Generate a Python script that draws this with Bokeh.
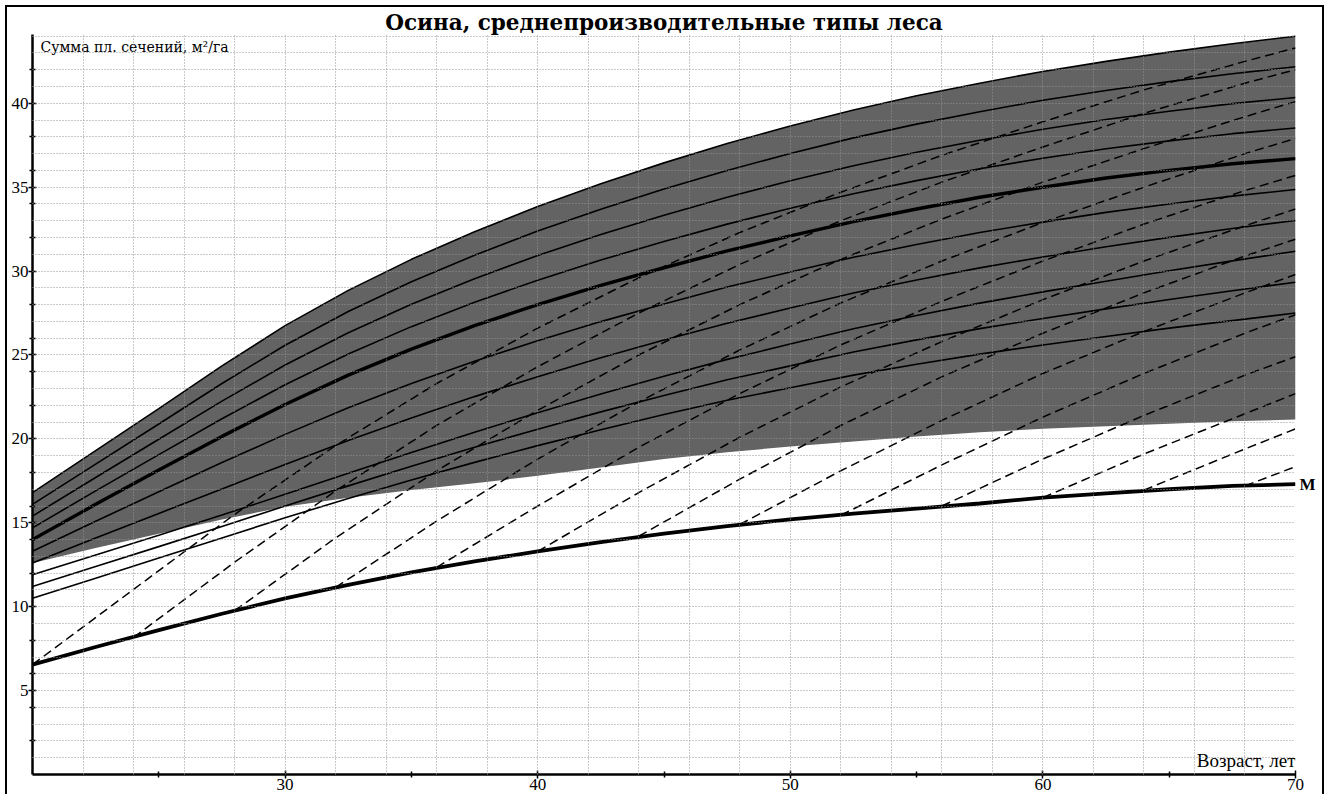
from bokeh.plotting import figure
from bokeh.models import Range1d, FixedTicker, Label, LinearAxis
from bokeh.embed import file_html
from bokeh.resources import INLINE

# ---------------- data ----------------
ages = [20, 22.5, 25, 27.5, 30, 32.5, 35, 37.5, 40, 42.5, 45, 47.5, 50, 52.5, 55, 57.5, 60, 62.5, 65, 67.5, 70]

# solid curves (bottom to top); line_5 is the thick one, line_9 is the upper edge of the band
line_0 = [10.5, 11.7, 12.9, 14.1, 15.3, 16.45, 17.55, 18.6, 19.6, 20.55, 21.45, 22.3, 23.05, 23.8, 24.45, 25.05, 25.6, 26.1, 26.6, 27.05, 27.5]
line_1 = [11.2, 12.39, 13.58, 14.78, 16.0, 17.2, 18.37, 19.5, 20.58, 21.61, 22.59, 23.52, 24.35, 25.18, 25.9, 26.57, 27.18, 27.75, 28.31, 28.83, 29.34]
line_2 = [11.9, 13.08, 14.26, 15.46, 16.7, 17.95, 19.19, 20.4, 21.56, 22.67, 23.73, 24.74, 25.65, 26.56, 27.35, 28.09, 28.76, 29.4, 30.02, 30.61, 31.18]
line_3 = [12.6, 14.09, 15.56, 17.02, 18.48, 19.9, 21.24, 22.52, 23.71, 24.83, 25.89, 26.89, 27.8, 28.69, 29.47, 30.19, 30.84, 31.45, 32.01, 32.54, 33.02]
line_4 = [13.3, 15.09, 16.85, 18.59, 20.27, 21.85, 23.3, 24.63, 25.85, 26.99, 28.04, 29.05, 29.95, 30.82, 31.58, 32.3, 32.92, 33.5, 34.0, 34.47, 34.86]
line_5 = [14.0, 16.1, 18.15, 20.15, 22.05, 23.8, 25.35, 26.75, 28.0, 29.15, 30.2, 31.2, 32.1, 32.95, 33.7, 34.4, 35.0, 35.55, 36.0, 36.4, 36.7]
line_6 = [14.7, 16.9, 19.06, 21.2, 23.23, 25.06, 26.69, 28.15, 29.46, 30.66, 31.76, 32.8, 33.74, 34.61, 35.39, 36.1, 36.73, 37.29, 37.76, 38.19, 38.53]
line_7 = [15.4, 17.7, 19.98, 22.25, 24.4, 26.33, 28.03, 29.55, 30.93, 32.18, 33.33, 34.4, 35.38, 36.28, 37.08, 37.8, 38.45, 39.03, 39.53, 39.98, 40.35]
line_8 = [16.1, 18.5, 20.89, 23.3, 25.58, 27.59, 29.36, 30.95, 32.39, 33.69, 34.89, 36.0, 37.01, 37.94, 38.76, 39.5, 40.18, 40.76, 41.29, 41.76, 42.18]
line_9 = [16.8, 19.3, 21.8, 24.35, 26.75, 28.85, 30.7, 32.35, 33.85, 35.2, 36.45, 37.6, 38.65, 39.6, 40.45, 41.2, 41.9, 42.5, 43.05, 43.55, 44.0]
solid_lines = [line_0, line_1, line_2, line_3, line_4, line_5, line_6, line_7, line_8, line_9]
thick_index = 5

# shaded band: top = line_9, bottom = band_lower
band_lower = [12.6, 13.5, 14.35, 15.2, 15.95, 16.5, 16.95, 17.35, 17.8, 18.3, 18.8, 19.2, 19.55, 19.85, 20.15, 20.4, 20.6, 20.75, 20.9, 21.05, 21.15]

# minimum curve "M"
m_values = [6.55, 7.6, 8.6, 9.58, 10.5, 11.3, 12.05, 12.7, 13.3, 13.85, 14.35, 14.8, 15.2, 15.55, 15.85, 16.15, 16.5, 16.75, 17.0, 17.2, 17.3]

# dashed curves, each starting on M
dash_20_x = [20, 24, 28, 32, 36, 40, 44, 48, 52, 56, 60, 64, 68, 70]
dash_20_y = [6.55, 11.03, 15.5, 19.6, 23.3, 26.6, 29.6, 32.3, 34.7, 36.9, 38.9, 40.8, 42.5, 43.3]
dash_24_x = [24, 28, 32, 36, 40, 44, 48, 52, 56, 60, 64, 68, 70]
dash_24_y = [8.17, 12.65, 16.9, 20.8, 24.3, 27.5, 30.4, 33.0, 35.3, 37.4, 39.4, 41.2, 42.0]
dash_28_x = [28, 32, 36, 40, 44, 48, 52, 56, 60, 64, 68, 70]
dash_28_y = [9.76, 14.1, 18.1, 21.7, 25.0, 28.0, 30.7, 33.1, 35.3, 37.3, 39.2, 40.1]
dash_32_x = [32, 36, 40, 44, 48, 52, 56, 60, 64, 68, 70]
dash_32_y = [11.15, 15.1, 18.8, 22.2, 25.3, 28.1, 30.6, 32.9, 35.0, 37.0, 37.9]
dash_36_x = [36, 40, 44, 48, 52, 56, 60, 64, 68, 70]
dash_36_y = [12.35, 16.0, 19.5, 22.7, 25.6, 28.2, 30.6, 32.8, 34.8, 35.7]
dash_40_x = [40, 44, 48, 52, 56, 60, 64, 68, 70]
dash_40_y = [13.3, 16.8, 20.1, 23.1, 25.8, 28.3, 30.6, 32.7, 33.7]
dash_44_x = [44, 48, 52, 56, 60, 64, 68, 70]
dash_44_y = [14.2, 17.6, 20.8, 23.7, 26.3, 28.7, 30.9, 31.9]
dash_48_x = [48, 52, 56, 60, 64, 68, 70]
dash_48_y = [14.9, 18.1, 21.1, 23.9, 26.4, 28.7, 29.8]
dash_52_x = [52, 56, 60, 64, 68, 70]
dash_52_y = [15.45, 18.45, 21.3, 23.9, 26.3, 27.4]
dash_56_x = [56, 60, 64, 68, 70]
dash_56_y = [16.0, 18.8, 21.4, 23.8, 24.9]
dash_60_x = [60, 64, 68, 70]
dash_60_y = [16.5, 19.1, 21.5, 22.7]
dash_64_x = [64, 68, 70]
dash_64_y = [16.95, 19.4, 20.6]
dash_68_x = [68, 70]
dash_68_y = [17.2, 18.35]
dashed = [(dash_20_x, dash_20_y), (dash_24_x, dash_24_y), (dash_28_x, dash_28_y),
          (dash_32_x, dash_32_y), (dash_36_x, dash_36_y), (dash_40_x, dash_40_y),
          (dash_44_x, dash_44_y), (dash_48_x, dash_48_y), (dash_52_x, dash_52_y),
          (dash_56_x, dash_56_y), (dash_60_x, dash_60_y), (dash_64_x, dash_64_y),
          (dash_68_x, dash_68_y)]

x_major = [30, 40, 50, 60, 70]
x_minor = [25, 35, 45, 55, 65]
y_major = [5, 10, 15, 20, 25, 30, 35, 40]
y_minor = [2, 4, 6, 8, 12, 14, 16, 18, 22, 24, 26, 28, 32, 34, 36, 38, 42]
x_grid = list(range(22, 71, 2))
y_grid = list(range(1, 45))

title_text = "Осина, среднепроизводительные типы леса"
y_title = "Сумма пл. сечений, м²/га"
x_title = "Возраст, лет"
m_text = "M"

SERIF = "Liberation Serif"

# ---------------- figure ----------------
p = figure(width=1315, height=789, x_range=Range1d(20, 70), y_range=Range1d(0, 44.1),
           output_backend="svg", toolbar_location=None,
           min_border_left=25, min_border_right=27, min_border_top=23, min_border_bottom=22,
           title=title_text,
           styles={"margin": "7px 0 0 7px",
                   "box-shadow": "-2px -2px 0 0 #000, 2px -2px 0 0 #000"})
p.outline_line_color = None
p.background_fill_color = "white"
p.border_fill_color = "white"

p.title.align = "center"
p.title.text_font = "DejaVu Serif"
p.title.text_font_size = "21.5px"
p.title.text_font_style = "bold"
p.title.text_color = "black"
p.title.standoff = 0
p.title.offset = 0

# grid (drawn over the band so it shows through it, as in the scan)
p.xgrid.ticker = FixedTicker(ticks=x_grid)
p.ygrid.ticker = FixedTicker(ticks=y_grid)
for g in (p.xgrid, p.ygrid):
    g.grid_line_color = "#959595"
    g.grid_line_dash = "1 2"
    g.grid_line_width = 1
    g.level = "overlay"

# axes
p.xaxis.ticker = FixedTicker(ticks=x_major, minor_ticks=x_minor)
p.yaxis.ticker = FixedTicker(ticks=y_major, minor_ticks=y_minor)
for ax in (p.xaxis, p.yaxis):
    ax.axis_line_width = 2.5
    ax.axis_line_color = "black"
    ax.major_tick_line_color = "black"
    ax.minor_tick_line_color = "black"
    ax.major_tick_line_width = 1.5
    ax.minor_tick_line_width = 1.5
    ax.major_tick_in = 4
    ax.major_tick_out = 4
    ax.minor_tick_in = 3
    ax.minor_tick_out = 3
    ax.major_label_text_font = SERIF
    ax.major_label_text_font_size = "17px"
    ax.major_label_text_color = "black"
p.xaxis.major_label_standoff = 0
p.yaxis.major_label_standoff = 0

# right-hand label "M" at the end of the M curve (an axis without line or ticks)
m_axis = LinearAxis(ticker=FixedTicker(ticks=[m_values[-1]]),
                    major_label_overrides={m_values[-1]: m_text},
                    axis_line_color=None, major_tick_line_color=None,
                    minor_tick_line_color=None, major_tick_out=0, major_tick_in=0,
                    major_label_standoff=4, major_label_text_font=SERIF,
                    major_label_text_font_size="17px", major_label_text_font_style="bold",
                    major_label_text_color="black")
p.add_layout(m_axis, "right")

# band
p.varea(x=ages, y1=band_lower, y2=line_9, fill_color="#636363")

# solid curves
for i, ys in enumerate(solid_lines):
    p.line(ages, ys, line_color="black", line_width=3.4 if i == thick_index else 1.6)

# dashed curves
for xs, ys in dashed:
    p.line(xs, ys, line_color="black", line_width=1.5, line_dash="9 5")

# M curve
p.line(ages, m_values, line_color="black", line_width=3.8)

# texts inside the plot area
p.add_layout(Label(x=20, y=44.1, x_offset=8, y_offset=-4, text=y_title, text_align="left",
                   text_baseline="top", text_font="DejaVu Serif", text_font_size="14px",
                   text_color="black"))
p.add_layout(Label(x=70, y=0, x_offset=0, y_offset=4, text=x_title, text_align="right",
                   text_baseline="bottom", text_font=SERIF, text_font_size="19px",
                   text_color="black"))

open("out.html", "w").write(file_html(p, INLINE))
